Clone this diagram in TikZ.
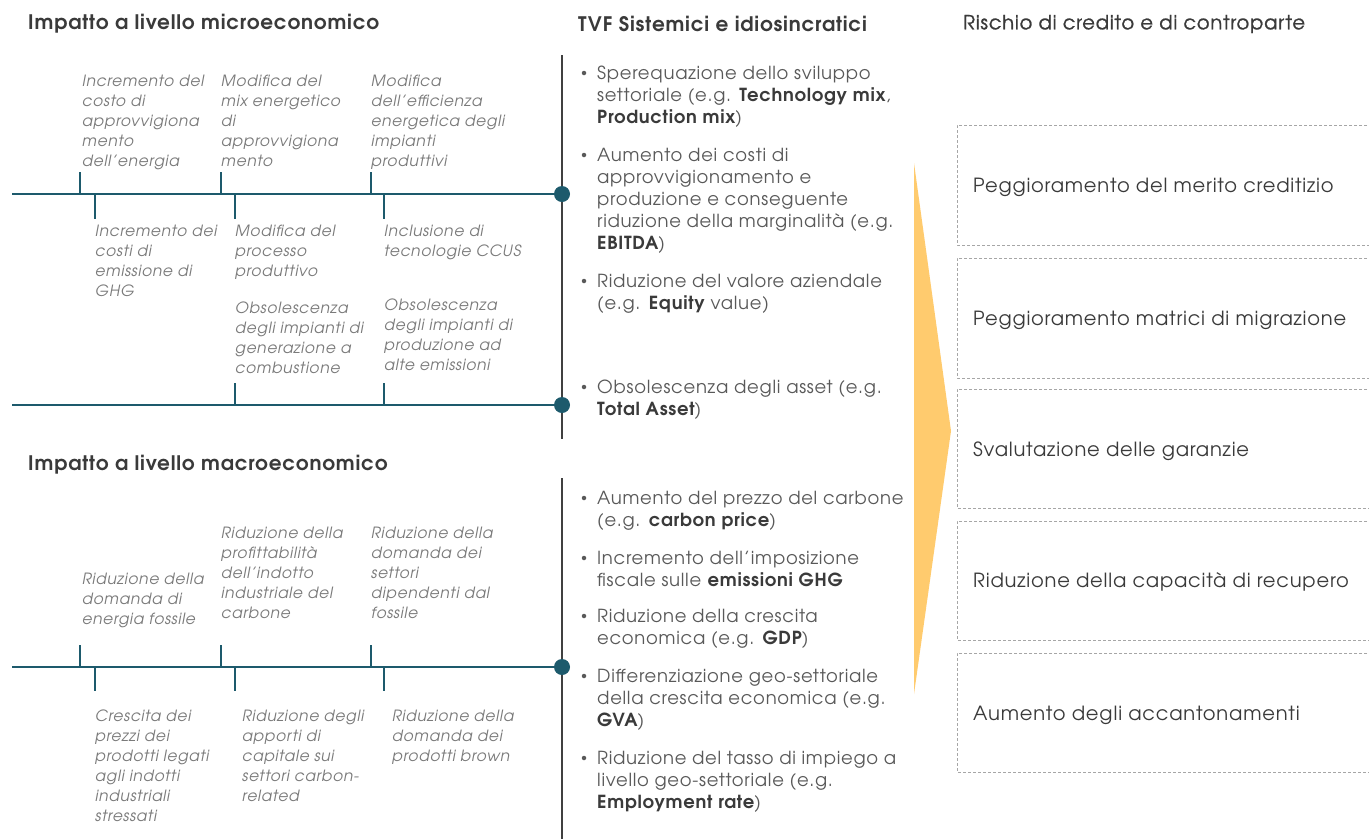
\documentclass[tikz,border=0pt]{standalone}
\usepackage{fontspec}
\setmainfont{texgyreadventor}[Extension=.otf, UprightFont=*-regular, BoldFont=*-bold, ItalicFont=*-italic, BoldItalicFont=*-bolditalic, LetterSpace=4]
\newfontfamily\semibf{texgyreadventor}[Extension=.otf, UprightFont=*-regular, LetterSpace=4, FakeBold=0.9]
\definecolor{teal}{HTML}{1D5A6C}
\definecolor{vgray}{HTML}{404040}
\definecolor{lbl}{HTML}{7A7A7A}
\definecolor{bul}{HTML}{595959}
\definecolor{hd}{HTML}{3A3A3A}
\definecolor{arr}{HTML}{FFCB6E}
\definecolor{dash}{HTML}{A6A6A6}
\tikzset{
  tline/.style={draw=teal, line width=2.4pt},
  tick/.style={draw=teal, line width=2pt},
  tdot/.style={circle, fill=teal, minimum size=16pt, inner sep=0pt},
  vline/.style={draw=vgray, line width=2.2pt},
  lab/.style={anchor=north west, inner sep=0pt, align=left, text=lbl, font=\fontsize{15.5}{20}\selectfont\itshape},
  bulltxt/.style={anchor=north west, inner sep=0pt, align=left, text=bul, font=\fontsize{18}{22}\selectfont},
  bdot/.style={circle, fill=bul, minimum size=4.5pt, inner sep=0pt},
  head/.style={anchor=west, inner sep=0pt, text=hd, font=\fontsize{20}{24}\selectfont\bfseries},
  semihead/.style={anchor=west, inner sep=0pt, text=hd, font=\semibf\fontsize{19.5}{24}\selectfont},
  boxtxt/.style={anchor=west, inner sep=0pt, text=hd, font=\fontsize{19.5}{24}\selectfont},
  dbox/.style={draw=dash, line width=0.8pt, dashed, dash pattern=on 3pt off 2pt},
}
\newcommand{\bb}[1]{\textbf{\color{hd}#1}}
\begin{document}
\begin{tikzpicture}[x=1pt,y=-1pt]
\useasboundingbox (0,0) rectangle (1369,839);
\fill[white] (0,0) rectangle (1369,839);

% headings
\node[head] (h1) at (28,24) {Impatto a livello microeconomico};
\node[head] (h2) at (28,465) {Impatto a livello macroeconomico};
\node[head] (h3) at (578,24) {TVF Sistemici e idiosincratici};
\node[semihead] (h4) at (963,24) {Rischio di credito e di controparte};

% vertical separators
\coordinate (v1t) at (562,55); \coordinate (v1b) at (562,439);
\coordinate (v2t) at (562,478); \coordinate (v2b) at (562,839);
\draw[vline] (v1t) -- (v1b);
\draw[vline] (v2t) -- (v2b);

% timelines
\node[tdot] (d1) at (562,194) {};
\node[tdot] (d2) at (562,405) {};
\node[tdot] (d3) at (562,667) {};
\coordinate (s1) at (12,194);
\coordinate (s2) at (12,405);
\coordinate (s3) at (12,667);
\draw[tline] (s1) -- (d1.center);
\draw[tline] (s2) -- (d2.center);
\draw[tline] (s3) -- (d3.center);

% ticks micro top line
\foreach \x in {80,221,371} { \draw[tick] (\x,194) -- (\x,172); }
\foreach \x in {95,235,384} { \draw[tick] (\x,194) -- (\x,219); }
% ticks micro bottom line
\foreach \x in {235,384} { \draw[tick] (\x,405) -- (\x,383); }
% ticks macro line
\foreach \x in {80,221,371} { \draw[tick] (\x,667) -- (\x,645); }
\foreach \x in {95,235,384} { \draw[tick] (\x,667) -- (\x,691); }

% micro labels
\node[lab] (a1) at (82,75) {Incremento del\\costo di\\approvvigiona\\mento\\dell’energia};
\node[lab] (a2) at (221,75) {Modifica del\\mix energetico\\di\\approvvigiona\\mento};
\node[lab] (a3) at (371,75) {Modifica\\dell’efficienza\\energetica degli\\impianti\\produttivi};
\node[lab] (b1) at (95,225) {Incremento dei\\costi di\\emissione di\\GHG};
\node[lab] (b2) at (235,225) {Modifica del\\processo\\produttivo};
\node[lab] (b3) at (384,225) {Inclusione di\\tecnologie CCUS};
\node[lab] (c1) at (235,302) {Obsolescenza\\degli impianti di\\generazione a\\combustione};
\node[lab] (c2) at (384,299) {Obsolescenza\\degli impianti di\\produzione ad\\alte emissioni};

% macro labels
\node[lab] (m1) at (82,573) {Riduzione della\\domanda di\\energia fossile};
\node[lab] (m2) at (221,527) {Riduzione della\\profittabilità\\dell’indotto\\industriale del\\carbone};
\node[lab] (m3) at (371,527) {Riduzione della\\domanda dei\\settori\\dipendenti dal\\fossile};
\node[lab] (n1) at (95,710) {Crescita dei\\prezzi dei\\prodotti legati\\agli indotti\\industriali\\stressati};
\node[lab] (n2) at (242,710) {Riduzione degli\\apporti di\\capitale sui\\settori carbon-\\related};
\node[lab] (n3) at (392,710) {Riduzione della\\domanda dei\\prodotti brown};

% bullets
\foreach \y in {73,155,281,387,498,558,616,676,758} { \node[bdot] at (584,\y) {}; }
\node[bulltxt] (t1) at (597,66) {Sperequazione dello sviluppo\\settoriale (e.g. \bb{Technology mix},\\\bb{Production mix})};
\node[bulltxt] (t2) at (597,148) {Aumento dei costi di\\approvvigionamento e\\produzione e conseguente\\riduzione della marginalità (e.g.\\\bb{EBITDA})};
\node[bulltxt] (t3) at (597,274) {Riduzione del valore aziendale\\(e.g. \bb{Equity} value)};
\node[bulltxt] (t4) at (597,380) {Obsolescenza degli asset (e.g.\\\bb{Total Asset})};
\node[bulltxt] (t5) at (597,491) {Aumento del prezzo del carbone\\(e.g. \bb{carbon price})};
\node[bulltxt] (t6) at (597,551) {Incremento dell’imposizione\\fiscale sulle \bb{emissioni GHG}};
\node[bulltxt] (t7) at (597,609) {Riduzione della crescita\\economica (e.g. \bb{GDP})};
\node[bulltxt] (t8) at (597,669) {Differenziazione geo-settoriale\\della crescita economica (e.g.\\\bb{GVA})};
\node[bulltxt] (t9) at (597,751) {Riduzione del tasso di impiego a\\livello geo-settoriale (e.g.\\\bb{Employment rate})};

% arrow
\fill[arr] (914,163) -- (951,431) -- (914,694) -- cycle;

% dashed boxes
\foreach \yt/\yb in {125/245, 258/378, 389/508, 521/640, 653/772} {
  \draw[dbox] (1372,\yt) -- (957,\yt) -- (957,\yb) -- (1372,\yb);
}
\node[boxtxt] (r1) at (973,187) {Peggioramento del merito creditizio};
\node[boxtxt] (r2) at (973,320) {Peggioramento matrici di migrazione};
\node[boxtxt] (r3) at (973,451) {Svalutazione delle garanzie};
\node[boxtxt] (r4) at (973,582) {Riduzione della capacità di recupero};
\node[boxtxt] (r5) at (973,715) {Aumento degli accantonamenti};
\end{tikzpicture}
\end{document}
